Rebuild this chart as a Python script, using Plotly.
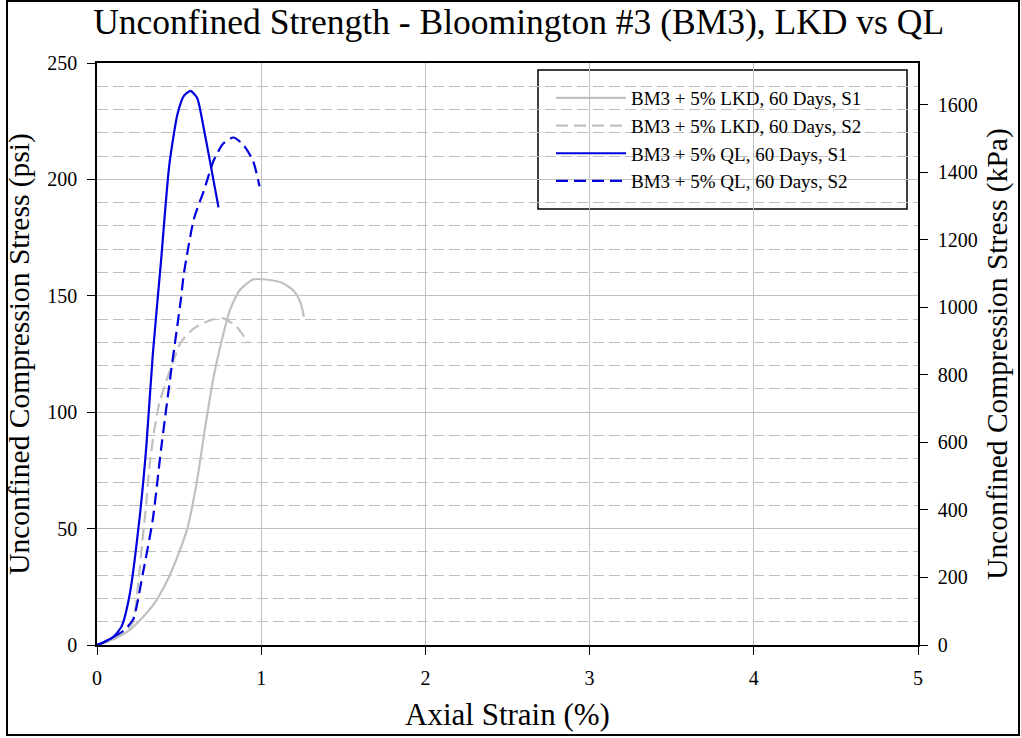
import plotly.graph_objects as go

# Axial strain (%) and stress (psi) for each specimen
lkd_s1_strain = [0, 0.10, 0.20, 0.28, 0.36, 0.43, 0.49, 0.55, 0.61, 0.66, 0.71, 0.75, 0.81, 0.87, 0.95, 1.03, 1.13, 1.20, 1.24, 1.26]
lkd_s1_stress = [0, 2.5, 6.5, 12, 19, 28, 38, 50, 71, 94, 115, 128, 144, 152.5, 157, 157, 155.5, 152, 147, 141]

lkd_s2_strain = [0, 0.10, 0.17, 0.22, 0.25, 0.28, 0.30, 0.32, 0.35, 0.38, 0.42, 0.46, 0.51, 0.59, 0.69, 0.77, 0.85, 0.92]
lkd_s2_stress = [0, 2.5, 5.5, 10, 26, 47, 61, 77, 93, 104, 113, 121, 130, 136, 139.5, 140.3, 136.7, 130]

ql_s1_strain = [0, 0.05, 0.10, 0.15, 0.20, 0.26, 0.30, 0.34, 0.39, 0.44, 0.49, 0.53, 0.57, 0.61, 0.65, 0.69, 0.74]
ql_s1_stress = [0, 1.5, 3.5, 8, 22, 55, 85, 125, 165, 206, 228, 236, 238, 235, 222, 207, 188]

ql_s2_strain = [0, 0.05, 0.10, 0.16, 0.22, 0.28, 0.34, 0.39, 0.45, 0.51, 0.53, 0.59, 0.65, 0.71, 0.77, 0.83, 0.89, 0.95, 0.99]
ql_s2_stress = [0, 1.5, 3.5, 6, 11, 31, 54, 84, 117, 148, 160, 183, 195, 208, 215.5, 218, 215, 208, 197]

series_names = [
    "BM3 + 5% LKD, 60 Days, S1",
    "BM3 + 5% LKD, 60 Days, S2",
    "BM3 + 5% QL, 60 Days, S1",
    "BM3 + 5% QL, 60 Days, S2",
]

PSI_TO_KPA = 6.894757
Y_MAX_PSI = 250

GRAY = "#c0c0c0"
BLUE = "#0000dd"
FONT = "Liberation Serif"

# plot-area geometry in pixels (used to place the frame and legend box)
FIG_W, FIG_H = 1021, 738
M_L, M_R, M_T, M_B = 97, 103, 63, 93
PW, PH = FIG_W - M_L - M_R, FIG_H - M_T - M_B


def px_x(px):
    return (px - M_L) / PW


def px_y(py):
    return (FIG_H - M_B - py) / PH


fig = go.Figure()

styles = [
    (lkd_s1_strain, lkd_s1_stress, GRAY, "solid"),
    (lkd_s2_strain, lkd_s2_stress, GRAY, "12px,6px"),
    (ql_s1_strain, ql_s1_stress, BLUE, "solid"),
    (ql_s2_strain, ql_s2_stress, BLUE, "12px,6px"),
]
for name, (xs, ys, color, dash) in zip(series_names, styles):
    fig.add_trace(go.Scatter(
        x=xs, y=ys, name=name, mode="lines",
        line=dict(color=color, width=2.2, dash=dash, shape="spline", smoothing=0.6),
    ))

# invisible trace so the kPa axis is drawn
fig.add_trace(go.Scatter(x=[None], y=[None], yaxis="y2", showlegend=False, hoverinfo="skip"))

fig.update_layout(
    width=FIG_W, height=FIG_H,
    margin=dict(l=M_L, r=M_R, t=M_T, b=M_B),
    paper_bgcolor="white", plot_bgcolor="white",
    font=dict(family=FONT, color="black", size=20),
    title=dict(
        text="Unconfined Strength - Bloomington #3 (BM3), LKD vs QL",
        font=dict(family=FONT, size=35.5, color="black"),
        x=0.508, xref="container", xanchor="center",
        y=0.971, yref="container", yanchor="middle",
    ),
    xaxis=dict(
        range=[0, 5], dtick=1, tick0=0,
        showgrid=True, gridcolor=GRAY, gridwidth=1,
        showline=True, linecolor="black", linewidth=1.5, mirror=True,
        ticks="outside", ticklen=8, tickcolor="black", ticklabelstandoff=6,
        zeroline=False,
        tickfont=dict(family=FONT, size=20),
        title=dict(text="Axial Strain (%)", font=dict(family=FONT, size=31), standoff=16),
    ),
    yaxis=dict(
        range=[0, Y_MAX_PSI], dtick=50, tick0=0,
        showgrid=True, gridcolor=GRAY, gridwidth=1,
        minor=dict(dtick=10, showgrid=True, gridcolor=GRAY, griddash="11px,5px", gridwidth=1, ticks=""),
        showline=True, linecolor="black", linewidth=1.5,
        ticks="outside", ticklen=8, tickcolor="black", ticklabelstandoff=6,
        zeroline=False,
        tickfont=dict(family=FONT, size=20),
        title=dict(text="Unconfined Compression Stress (psi)", font=dict(family=FONT, size=29.5), standoff=9),
    ),
    yaxis2=dict(
        range=[0, Y_MAX_PSI * PSI_TO_KPA], dtick=200, tick0=0,
        overlaying="y", side="right",
        showgrid=False, zeroline=False,
        showline=True, linecolor="black", linewidth=1.5,
        ticks="outside", ticklen=8, tickcolor="black", ticklabelstandoff=6,
        tickfont=dict(family=FONT, size=20),
        title=dict(text="Unconfined Compression Stress (kPa)", font=dict(family=FONT, size=29.5), standoff=10),
    ),
    legend=dict(
        x=px_x(551), y=px_y(79), xanchor="left", yanchor="top",
        bgcolor="rgba(0,0,0,0)", borderwidth=0,
        font=dict(family=FONT, size=19),
        itemwidth=70,
        tracegroupgap=0,
    ),
    showlegend=True,
)

# white legend box with black border, drawn over the grid
fig.add_shape(
    type="rect", xref="paper", yref="paper",
    x0=px_x(538), x1=px_x(907), y0=px_y(209), y1=px_y(70),
    line=dict(color="black", width=1.5), fillcolor="white", layer="between",
)

# frame around the whole chart
fig.add_shape(
    type="rect", xref="paper", yref="paper",
    x0=px_x(7), x1=px_x(1019), y0=px_y(735), y1=px_y(1),
    line=dict(color="black", width=2), fillcolor="rgba(0,0,0,0)", layer="above",
)

fig.write_html("out.html")
